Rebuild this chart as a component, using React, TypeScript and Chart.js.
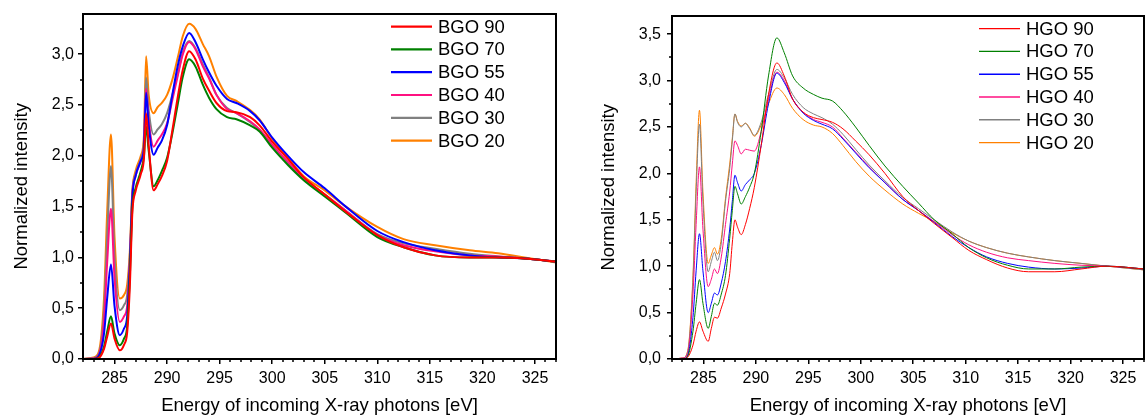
import React, { useEffect, useRef } from 'react';
import { Chart, registerables } from 'chart.js';

Chart.register(...registerables);

const FONT = "'Liberation Sans', Arial, Helvetica, sans-serif";

// ---------------- BGO (left panel) ----------------
const energyBGO = [282, 283, 283.5, 284.0, 284.3, 284.66, 285.0, 285.5, 285.9, 286.2, 286.45, 286.7, 287.0, 287.5, 287.8, 288.0, 288.25, 288.72, 289.1, 289.5, 290.0, 290.5, 291.0, 291.5, 292.1, 292.7, 293.4, 294.0, 294.7, 295.7, 296.6, 297.9, 298.8, 300.0, 301.5, 303.0, 305.0, 307.0, 310.0, 312.5, 315.5, 318.8, 321.5, 324.0, 327.0];
const bgo90 = [0, 0, 0.01, 0.1, 0.22, 0.35, 0.2, 0.085, 0.14, 0.26, 0.7, 1.45, 1.65, 1.82, 1.98, 2.42, 2.1, 1.66, 1.72, 1.8, 1.95, 2.25, 2.57, 2.85, 3.03, 2.95, 2.76, 2.64, 2.52, 2.44, 2.43, 2.38, 2.3, 2.14, 1.97, 1.79, 1.62, 1.45, 1.22, 1.1, 1.02, 1.0, 1.0, 0.99, 0.96];
const bgo70 = [0, 0, 0.015, 0.12, 0.27, 0.42, 0.25, 0.135, 0.2, 0.32, 0.8, 1.5, 1.68, 1.85, 2.0, 2.29, 2.05, 1.7, 1.76, 1.85, 1.98, 2.22, 2.5, 2.78, 2.95, 2.88, 2.7, 2.57, 2.46, 2.38, 2.36, 2.3, 2.24, 2.08, 1.91, 1.76, 1.6, 1.44, 1.2, 1.1, 1.02, 1.0, 1.0, 0.99, 0.96];
const bgo55 = [0, 0, 0.03, 0.25, 0.6, 0.93, 0.52, 0.235, 0.3, 0.42, 0.9, 1.6, 1.8, 1.95, 2.08, 2.62, 2.3, 2.01, 2.08, 2.15, 2.3, 2.6, 2.88, 3.08, 3.21, 3.12, 2.95, 2.82, 2.69, 2.56, 2.52, 2.44, 2.35, 2.18, 2.0, 1.84, 1.68, 1.5, 1.26, 1.15, 1.07, 1.02, 1.0, 0.99, 0.96];
const bgo40 = [0, 0.005, 0.04, 0.38, 0.95, 1.48, 0.8, 0.365, 0.42, 0.52, 0.95, 1.62, 1.8, 1.95, 2.1, 2.66, 2.35, 2.09, 2.15, 2.21, 2.32, 2.55, 2.78, 3.0, 3.12, 3.05, 2.88, 2.76, 2.6, 2.46, 2.42, 2.34, 2.26, 2.11, 1.94, 1.78, 1.62, 1.46, 1.22, 1.12, 1.06, 1.02, 1.01, 0.99, 0.96];
const bgo30 = [0, 0.01, 0.05, 0.48, 1.2, 1.9, 1.0, 0.48, 0.53, 0.63, 1.0, 1.65, 1.82, 1.97, 2.15, 2.77, 2.45, 2.21, 2.26, 2.31, 2.42, 2.6, 2.8, 3.02, 3.13, 3.06, 2.9, 2.77, 2.6, 2.47, 2.42, 2.33, 2.25, 2.1, 1.93, 1.77, 1.62, 1.46, 1.23, 1.14, 1.085, 1.035, 1.01, 0.99, 0.96];
const bgo20 = [0, 0.015, 0.07, 0.6, 1.45, 2.21, 1.2, 0.595, 0.63, 0.73, 1.05, 1.66, 1.85, 2.0, 2.2, 2.98, 2.6, 2.42, 2.48, 2.52, 2.6, 2.75, 2.96, 3.18, 3.3, 3.25, 3.1, 2.98, 2.78, 2.59, 2.54, 2.45, 2.36, 2.17, 1.98, 1.8, 1.66, 1.5, 1.3, 1.18, 1.12, 1.07, 1.04, 1.0, 0.95];
const bgoLabels = ['BGO 90', 'BGO 70', 'BGO 55', 'BGO 40', 'BGO 30', 'BGO 20'];

// ---------------- HGO (right panel) ----------------
const energyHGO = [282, 283, 283.5, 284.0, 284.3, 284.62, 284.95, 285.45, 285.75, 286.05, 286.33, 286.7, 287.1, 287.5, 287.75, 288.0, 288.25, 288.6, 289.0, 289.4, 289.85, 290.5, 291.2, 292.0, 292.7, 293.5, 294.5, 295.5, 296.3, 297.3, 298.3, 299.5, 300.8, 302.3, 304.0, 305.5, 307.0, 308.7, 310.3, 312.0, 314.0, 316.0, 318.5, 321.0, 323.5, 327.0];
const hgo90 = [0, 0, 0.02, 0.15, 0.3, 0.4, 0.3, 0.19, 0.33, 0.45, 0.44, 0.55, 0.7, 0.92, 1.25, 1.5, 1.42, 1.34, 1.45, 1.62, 1.85, 2.3, 2.85, 3.19, 3.05, 2.8, 2.66, 2.6, 2.58, 2.55, 2.48, 2.35, 2.2, 2.0, 1.75, 1.6, 1.46, 1.31, 1.17, 1.07, 0.98, 0.94, 0.94, 0.97, 1.0, 0.97];
const hgo70 = [0, 0, 0.03, 0.3, 0.6, 0.855, 0.6, 0.33, 0.46, 0.6, 0.58, 0.7, 0.9, 1.3, 1.6, 1.86, 1.78, 1.67, 1.75, 1.85, 2.0, 2.45, 3.05, 3.46, 3.3, 3.05, 2.92, 2.85, 2.81, 2.78, 2.67, 2.5, 2.3, 2.08, 1.86, 1.68, 1.5, 1.35, 1.2, 1.09, 1.01, 0.97, 0.97, 0.99, 1.0, 0.97];
const hgo55 = [0, 0, 0.04, 0.45, 0.95, 1.35, 0.95, 0.5, 0.6, 0.71, 0.69, 0.82, 1.05, 1.4, 1.7, 1.98, 1.9, 1.81, 1.88, 1.93, 2.0, 2.3, 2.75, 3.08, 2.98, 2.8, 2.65, 2.57, 2.53, 2.48, 2.37, 2.22, 2.06, 1.9, 1.72, 1.6, 1.47, 1.32, 1.2, 1.1, 1.03, 0.99, 0.97, 0.98, 1.0, 0.97];
const hgo40 = [0, 0.01, 0.06, 0.7, 1.45, 2.07, 1.4, 0.78, 0.86, 0.97, 0.92, 1.1, 1.45, 1.8, 2.1, 2.35, 2.3, 2.21, 2.26, 2.25, 2.24, 2.45, 2.8, 3.09, 3.0, 2.8, 2.66, 2.58, 2.55, 2.5, 2.38, 2.23, 2.07, 1.9, 1.72, 1.6, 1.48, 1.34, 1.23, 1.15, 1.09, 1.06, 1.03, 1.01, 1.0, 0.97];
const hgo30 = [0, 0.01, 0.08, 0.85, 1.8, 2.53, 1.7, 0.94, 1.05, 1.15, 1.06, 1.25, 1.7, 2.05, 2.35, 2.64, 2.55, 2.5, 2.54, 2.48, 2.41, 2.55, 2.85, 3.12, 3.03, 2.85, 2.71, 2.64, 2.6, 2.53, 2.42, 2.26, 2.09, 1.92, 1.74, 1.62, 1.5, 1.37, 1.27, 1.2, 1.14, 1.1, 1.06, 1.03, 1.0, 0.96];
const hgo20 = [0, 0.01, 0.09, 0.9, 1.9, 2.68, 1.8, 1.03, 1.12, 1.2, 1.13, 1.3, 1.73, 2.1, 2.38, 2.64, 2.56, 2.51, 2.54, 2.49, 2.4, 2.52, 2.75, 2.92, 2.85, 2.7, 2.58, 2.52, 2.5, 2.43, 2.3, 2.13, 1.97, 1.82, 1.67, 1.57, 1.48, 1.36, 1.27, 1.2, 1.14, 1.1, 1.06, 1.03, 1.0, 0.96];
const hgoLabels = ['HGO 90', 'HGO 70', 'HGO 55', 'HGO 40', 'HGO 30', 'HGO 20'];

// ---------------- axes ----------------
const xMin = 282;
const xMax = 327;
const xMajorTicks = [285, 290, 295, 300, 305, 310, 315, 320, 325];
const yMaxBGO = 3.4;
const yMaxHGO = 3.7;
const yMajorTicksBGO = [0, 0.5, 1.0, 1.5, 2.0, 2.5, 3.0];
const yMajorTicksHGO = [0, 0.5, 1.0, 1.5, 2.0, 2.5, 3.0, 3.5];
const xMinorStep = 1;
const yMinorStep = 0.25;

const seriesColors = ['#ff0000', '#008000', '#0000ff', '#ff1080', '#808080', '#ff8000'];

const xTitle = 'Energy of incoming X-ray photons [eV]';
const yTitle = 'Normalized intensity';

function makeDecor(xMajor: number[], yMajor: number[]) {
  return {
    id: 'axesDecor',
    afterDraw(chart: any) {
      const { ctx, chartArea: a, scales } = chart;
      const xs = scales.x;
      const ys = scales.y;
      ctx.save();
      ctx.strokeStyle = '#000';
      ctx.lineWidth = 1.5;
      ctx.beginPath();
      for (let v = xs.min; v <= xs.max + 1e-9; v += xMinorStep) {
        if (xMajor.some((m) => Math.abs(m - v) < 1e-6)) continue;
        const px = Math.round(xs.getPixelForValue(v));
        ctx.moveTo(px, a.bottom);
        ctx.lineTo(px, a.bottom + 3);
      }
      for (let v = ys.min; v <= ys.max + 1e-9; v += yMinorStep) {
        if (yMajor.some((m) => Math.abs(m - v) < 1e-6)) continue;
        const py = Math.round(ys.getPixelForValue(v));
        ctx.moveTo(a.left, py);
        ctx.lineTo(a.left - 3, py);
      }
      ctx.stroke();
      ctx.lineWidth = 2;
      ctx.strokeRect(Math.round(a.left), Math.round(a.top), Math.round(a.right - a.left), Math.round(a.bottom - a.top));
      ctx.restore();
    },
  };
}

function makeLegend(lineWidth: number) {
  return {
    id: 'insideLegend',
    afterDraw(chart: any) {
      const { ctx, chartArea: a } = chart;
      ctx.save();
      ctx.font = `18.5px ${FONT}`;
      ctx.textBaseline = 'middle';
      ctx.textAlign = 'left';
      chart.data.datasets.forEach((ds: any, i: number) => {
        const yy = a.top + 13 + i * 22.8;
        const x0 = a.right - 165;
        ctx.strokeStyle = ds.borderColor;
        ctx.lineWidth = lineWidth;
        ctx.beginPath();
        ctx.moveTo(x0, yy);
        ctx.lineTo(x0 + 41, yy);
        ctx.stroke();
        ctx.fillStyle = '#000';
        ctx.fillText(ds.label, x0 + 47, yy + 1);
      });
      ctx.restore();
    },
  };
}

type PanelProps = {
  left: number;
  width: number;
  energies: number[];
  series: number[][];
  labels: string[];
  yMax: number;
  yMajor: number[];
  lineWidth: number;
  legendLineWidth: number;
  axisWidth: number;
  yTitlePad: number;
  yTickPad: number;
  rightPad: number;
};

function Panel(p: PanelProps) {
  const ref = useRef<HTMLCanvasElement | null>(null);
  useEffect(() => {
    if (!ref.current) return;
    const datasets = p.series.map((vals, i) => ({
      label: p.labels[i],
      data: p.energies.map((x, j) => ({ x, y: vals[j] })),
      borderColor: seriesColors[i],
      backgroundColor: seriesColors[i],
      borderWidth: p.lineWidth,
      pointRadius: 0,
      fill: false,
      cubicInterpolationMode: 'monotone' as const,
    }));
    const chart = new Chart(ref.current, {
      type: 'line',
      data: { datasets },
      options: {
        animation: false,
        responsive: false,
        maintainAspectRatio: false,
        layout: { padding: { left: 0, right: p.rightPad, top: 12, bottom: 0 } },
        plugins: { legend: { display: false }, tooltip: { enabled: false } },
        scales: {
          x: {
            type: 'linear',
            min: xMin,
            max: xMax,
            afterBuildTicks: (s: any) => {
              s.ticks = xMajorTicks.map((v) => ({ value: v }));
            },
            afterFit: (s: any) => {
              s.height = 58;
            },
            ticks: {
              color: '#000',
              font: { family: FONT, size: 16 },
              padding: 5,
              maxRotation: 0,
              autoSkip: false,
              callback: (v: any) => String(v),
            },
            grid: { display: true, drawOnChartArea: false, drawTicks: true, tickLength: 5, color: '#000', lineWidth: 1.5 },
            border: { display: false },
            title: { display: true, text: xTitle, color: '#000', font: { family: FONT, size: 18.5 }, padding: { top: 0, bottom: 0 } },
          },
          y: {
            type: 'linear',
            min: 0,
            max: p.yMax,
            afterBuildTicks: (s: any) => {
              s.ticks = p.yMajor.map((v) => ({ value: v }));
            },
            afterFit: (s: any) => {
              s.width = p.axisWidth;
            },
            ticks: {
              color: '#000',
              font: { family: FONT, size: 16 },
              padding: p.yTickPad,
              autoSkip: false,
              callback: (v: any) => Number(v).toFixed(1).replace('.', ','),
            },
            grid: { display: true, drawOnChartArea: false, drawTicks: true, tickLength: 5, color: '#000', lineWidth: 1.5 },
            border: { display: false },
            title: { display: true, text: yTitle, color: '#000', font: { family: FONT, size: 18.5 }, padding: { top: p.yTitlePad, bottom: 0 } },
          },
        },
      },
      plugins: [makeDecor(xMajorTicks, p.yMajor), makeLegend(p.legendLineWidth)],
    } as any);
    return () => chart.destroy();
  }, []);
  return (
    <canvas
      ref={ref}
      width={p.width}
      height={417}
      style={{ position: 'absolute', left: p.left, top: 0, width: p.width, height: 417 }}
    />
  );
}

export default function App() {
  return (
    <div style={{ position: 'fixed', left: 0, top: 0, width: 1147, height: 417, background: '#fff' }}>
      <Panel
        left={0}
        width={573}
        energies={energyBGO}
        series={[bgo90, bgo70, bgo55, bgo40, bgo30, bgo20]}
        labels={bgoLabels}
        yMax={yMaxBGO}
        yMajor={yMajorTicksBGO}
        lineWidth={2}
        legendLineWidth={2.2}
        axisWidth={83}
        yTitlePad={11}
        yTickPad={4}
        rightPad={17}
      />
      <Panel
        left={573}
        width={574}
        energies={energyHGO}
        series={[hgo90, hgo70, hgo55, hgo40, hgo30, hgo20]}
        labels={hgoLabels}
        yMax={yMaxHGO}
        yMajor={yMajorTicksHGO}
        lineWidth={1}
        legendLineWidth={1.4}
        axisWidth={99}
        yTitlePad={25}
        yTickPad={6}
        rightPad={3}
      />
    </div>
  );
}
